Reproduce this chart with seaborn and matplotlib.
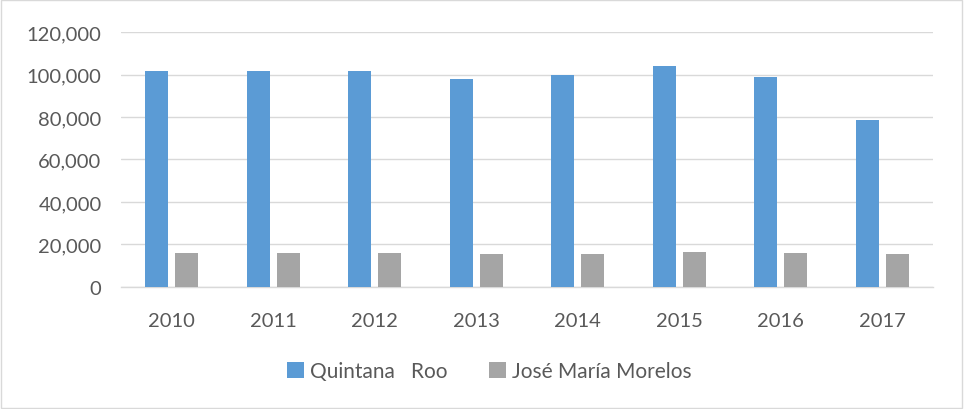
import matplotlib
matplotlib.use("Agg")
import matplotlib.pyplot as plt
import seaborn as sns
import pandas as pd
from matplotlib.patches import Rectangle
from matplotlib.ticker import FuncFormatter

years = ["2010", "2011", "2012", "2013", "2014", "2015", "2016", "2017"]
quintana_roo = [101700, 101700, 101700, 97800, 99800, 104200, 98900, 78400]
jose_maria_morelos = [16000, 16000, 16000, 15600, 15400, 16500, 16200, 15600]
series_names = ["Quintana   Roo", "José María Morelos"]
colors = ["#5B9BD5", "#A5A5A5"]

df = pd.DataFrame({
    "year": years * 2,
    "value": quintana_roo + jose_maria_morelos,
    "series": [series_names[0]] * len(years) + [series_names[1]] * len(years),
})

sns.set_theme(style="white")
plt.rcParams["font.family"] = ["Lato", "DejaVu Sans"]
text_color = "#595959"

fig = plt.figure(figsize=(9.64, 4.10), dpi=100)
ax = fig.add_axes([0.1255, 0.2976, 0.8425, 0.6219])

sns.barplot(data=df, x="year", y="value", hue="series", palette=colors,
            saturation=1, width=0.59, gap=0.23, ax=ax, legend=False, zorder=3,
            edgecolor="none")

ax.set_ylim(0, 120000)
ax.set_xlim(-0.5, len(years) - 0.5)
ax.set_yticks(range(0, 120001, 20000))
ax.yaxis.set_major_formatter(FuncFormatter(lambda v, p: f"{int(v):,}"))
ax.grid(axis="y", color="#d9d9d9", linewidth=1, zorder=0)
ax.set_axisbelow(True)
for s in ["left", "right", "top"]:
    ax.spines[s].set_visible(False)
ax.spines["bottom"].set_color("#d9d9d9")
ax.spines["bottom"].set_linewidth(1)
ax.set_xlabel("")
ax.set_ylabel("")
ax.tick_params(axis="both", length=0, labelsize=14.5, colors=text_color)
ax.tick_params(axis="y", pad=14)
ax.tick_params(axis="x", pad=18)

handles = [Rectangle((0, 0), 1, 1, facecolor=c, edgecolor="none") for c in colors]
leg = fig.legend(handles, series_names, loc="center", bbox_to_anchor=(0.508, 0.093),
                 ncol=2, frameon=False, fontsize=15, handlelength=0.8, handleheight=0.8,
                 handletextpad=0.3, columnspacing=2.0)
for t in leg.get_texts():
    t.set_color(text_color)

fig.add_artist(Rectangle((0.001, 0.002), 0.997, 0.995, transform=fig.transFigure,
                         fill=False, edgecolor="#d9d9d9", linewidth=1))

fig.savefig("out.png", dpi=100, facecolor="white")
